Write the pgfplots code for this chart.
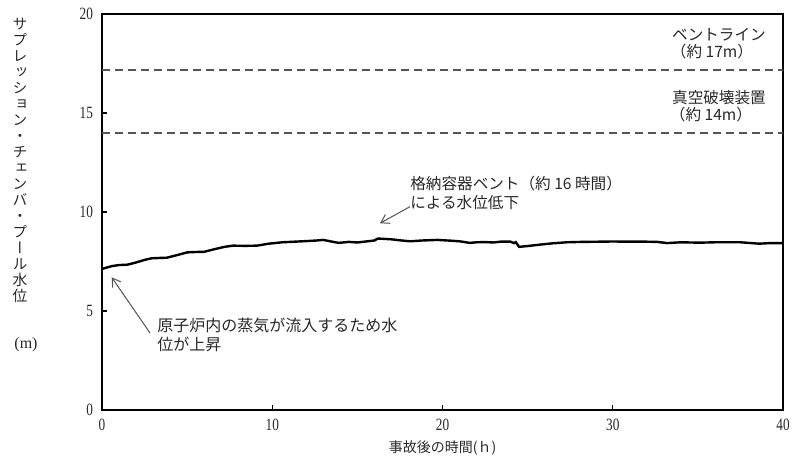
\documentclass[border=0pt]{standalone}
\usepackage{fontspec}
\setmainfont{Liberation Serif}
\newfontfamily\jp{Noto Sans CJK JP}
\newfontfamily\jpv[RawFeature=+vert]{Noto Sans CJK JP}
\newfontfamily\numfont[FakeStretch=0.77]{Liberation Serif}
\usepackage{pgfplots}
\pgfplotsset{compat=1.18}
\usetikzlibrary{arrows.meta,calc}
\definecolor{txt}{RGB}{40,40,40}
\definecolor{dashgray}{RGB}{85,85,85}
\begin{document}
\begin{tikzpicture}
\begin{axis}[
  name=ax,
  scale only axis,
  width=340.5pt, height=198pt,
  xmin=0, xmax=40, ymin=0, ymax=20,
  xtick={0,10,20,30,40}, ytick={0,5,10,15,20},
  tick pos=left,
  tick align=inside,
  major tick length=2.5pt,
  tick style={black, line width=0.6pt},
  axis line style={line width=1.1pt},
  /pgf/number format/assume math mode=true,
  ticklabel style={font=\numfont\fontsize{8.6}{9}\selectfont, text=txt},
  xticklabel style={yshift=-1pt},
  yticklabel style={xshift=-1pt},
  clip=false,
]
\addplot[black, line width=1.2pt] coordinates {
(0,7.12) (0.3,7.2) (0.6,7.27) (1.0,7.32) (1.5,7.34) (2.0,7.45) (2.5,7.58) (2.9,7.66) (3.4,7.68) (3.8,7.69)
(4.4,7.82) (5.0,7.96) (5.5,7.98) (6.0,7.99) (6.6,8.12) (7.2,8.24) (7.7,8.3) (8.4,8.29) (9.1,8.3)
(9.8,8.4) (10.6,8.47) (11.3,8.5) (12,8.53) (12.6,8.56) (13,8.59) (13.4,8.52) (13.9,8.44) (14.5,8.49)
(15.0,8.46) (15.6,8.52) (16.0,8.56) (16.2,8.66) (17.0,8.62) (17.6,8.56) (18.1,8.52) (18.8,8.56) (19.7,8.59)
(20.5,8.55) (21.0,8.52) (21.6,8.44) (22.0,8.47) (22.5,8.48) (23.0,8.46) (23.4,8.50) (24.0,8.50) (24.2,8.43)
(24.3,8.48) (24.5,8.24) (25.0,8.28) (25.7,8.35) (26.5,8.42) (27.3,8.47) (28.2,8.49) (29.2,8.50) (30.0,8.51)
(31,8.50) (32,8.50) (32.6,8.49) (33.2,8.43) (34,8.47) (35.1,8.45) (36,8.47) (37.5,8.47) (38.6,8.40) (39.3,8.43) (40,8.43)
};
\addplot[color=dashgray, line width=0.8pt, dash pattern=on 4pt off 2.5pt] coordinates {(0,17.16) (40,17.16)};
\addplot[color=dashgray, line width=0.8pt, dash pattern=on 4pt off 2.5pt] coordinates {(0,14.0) (40,14.0)};

% annotations
\node[font=\jp\fontsize{7.8}{8}\selectfont, text=txt, inner sep=0pt] at (axis cs:36.24,18.94) {ベントライン};
\node[font=\jp\fontsize{7.8}{8}\selectfont, text=txt, inner sep=0pt] at (axis cs:35.83,18.08) {（約 17m）};
\node[font=\jp\fontsize{7.8}{8}\selectfont, text=txt, inner sep=0pt] at (axis cs:36.24,15.76) {真空破壊装置};
\node[font=\jp\fontsize{7.8}{8}\selectfont, text=txt, inner sep=0pt] at (axis cs:35.77,14.90) {（約 14m）};

\node[font=\jp\fontsize{7.8}{8}\selectfont, text=txt, inner sep=0pt, anchor=west] at (axis cs:18.09,11.46) {格納容器ベント（約 16 時間）};
\node[font=\jp\fontsize{7.8}{8}\selectfont, text=txt, inner sep=0pt, anchor=west] at (axis cs:18.09,10.45) {による水位低下};

\node[font=\jp\fontsize{8}{8}\selectfont, text=txt, inner sep=0pt, anchor=west] at (axis cs:3.23,4.29) {原子炉内の蒸気が流入するため水};
\node[font=\jp\fontsize{8}{8}\selectfont, text=txt, inner sep=0pt, anchor=west] at (axis cs:3.23,3.33) {位が上昇};

\draw[txt!80, line width=0.5pt, -{Straight Barb[length=4pt,width=5pt]}] (axis cs:2.82,3.89) -- (axis cs:0.57,6.70);
\draw[txt!80, line width=0.5pt, -{Straight Barb[length=4pt,width=5pt]}] (axis cs:18.09,10.27) -- (axis cs:16.33,9.43);

% axis labels
\node[font=\jp\fontsize{7}{7}\selectfont, text=txt, inner sep=0pt] at ($(axis cs:20,0)+(0,-19pt)$) {事故後の時間(ｈ)};
\node[font=\jpv\fontsize{7.4}{8}\selectfont, text=txt, inner sep=0pt, align=center] at ($(axis cs:0,12.63)+(-41pt,0)$)
{サ\\プ\\レ\\ッ\\シ\\ョ\\ン\\・\\チ\\ェ\\ン\\バ\\・\\プ\\ー\\ル\\水\\位};
\node[font=\fontsize{8}{8}\selectfont, text=txt, inner sep=0pt] at ($(axis cs:0,3.28)+(-38pt,0)$) {(m)};
\end{axis}
\pgfresetboundingbox
\path[use as bounding box] ($(ax.south west)+(-51pt,-26.5pt)$) rectangle ($(ax.north east)+(6pt,7pt)$);
\end{tikzpicture}
\end{document}
